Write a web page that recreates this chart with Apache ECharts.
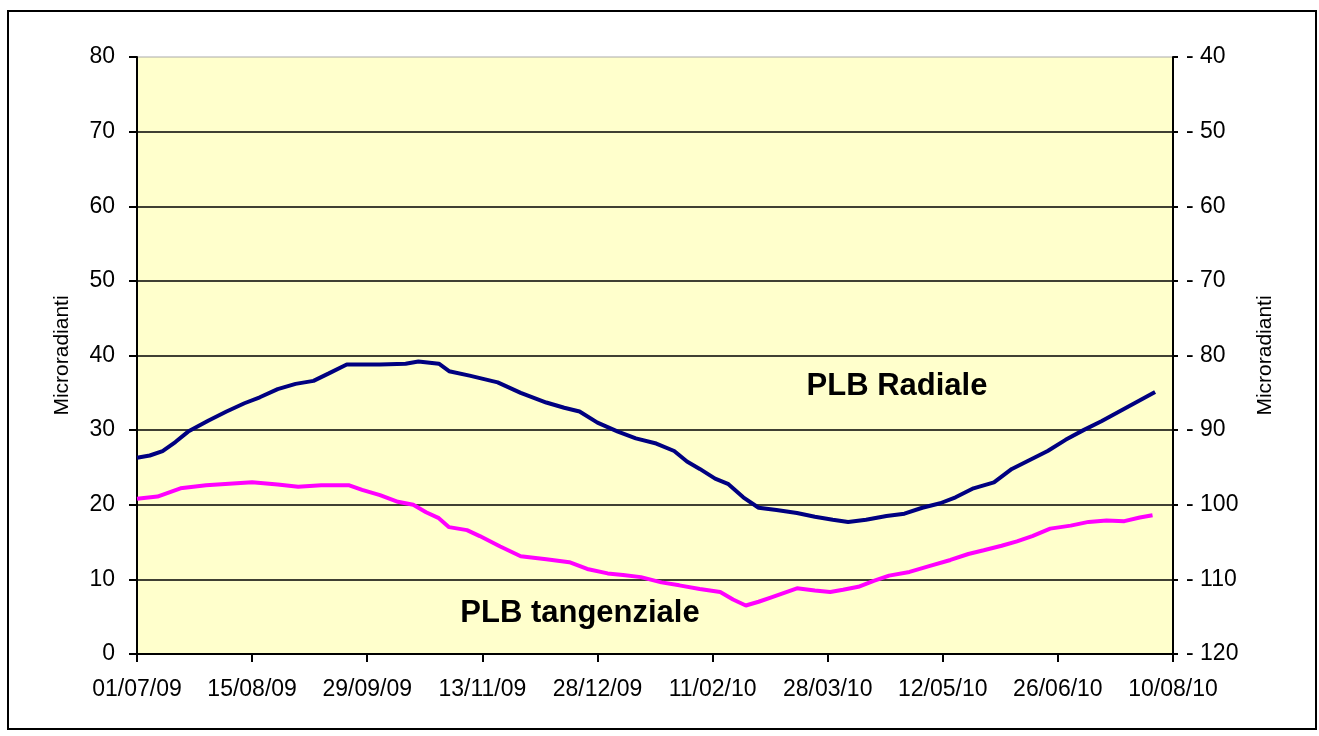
<!DOCTYPE html>
<html>
<head>
<meta charset="utf-8">
<title>PLB</title>
<script src="https://cdn.jsdelivr.net/npm/echarts@6/dist/echarts.min.js"></script>
<style>
  html, body { margin: 0; padding: 0; background: #fff; }
  #chart { width: 1319px; height: 736px; }
</style>
</head>
<body>
<div id="chart"></div>
<script>
// x values are days counted from 01/07/09
const startDate = Date.UTC(2009, 6, 1)
const dayMs = 86400000

const radialeDays = [0, 5, 10, 15, 20, 28, 35, 42, 48, 55, 62, 69, 75, 82, 95, 105, 110, 118, 122, 130,
  141, 150, 160, 167, 173, 180, 188, 195, 203, 210, 215, 220, 226, 231, 237, 243, 250, 258, 265, 272,
  278, 285, 293, 300, 307, 314, 320, 327, 335, 342, 349, 356, 363, 370, 377, 384, 391, 398]
const radialeValues = [26.3, 26.6, 27.2, 28.4, 29.8, 31.3, 32.5, 33.6, 34.4, 35.5, 36.2, 36.6, 37.6, 38.8, 38.8, 38.9, 39.2, 38.9, 37.9, 37.3,
  36.4, 35.0, 33.7, 33.0, 32.5, 31.0, 29.8, 28.9, 28.2, 27.2, 25.8, 24.8, 23.5, 22.8, 21.0, 19.6, 19.3, 18.9, 18.4, 18.0,
  17.7, 18.0, 18.5, 18.8, 19.6, 20.2, 21.0, 22.2, 23.0, 24.8, 26.0, 27.2, 28.7, 30.0, 31.2, 32.5, 33.8, 35.1]

const tangDays = [0, 8, 17, 27, 36, 45, 55, 63, 72, 83, 88, 95, 102, 108, 113, 118, 122, 129, 134, 142,
  150, 160, 169, 176, 184, 190, 197, 205, 212, 220, 228, 233, 238, 243, 248, 253, 258, 265, 271, 276,
  282, 288, 294, 302, 310, 318, 325, 331, 338, 344, 350, 357, 365, 372, 379, 386, 392, 397]
const tangValues = [20.8, 21.1, 22.2, 22.6, 22.8, 23.0, 22.7, 22.4, 22.6, 22.6, 22.0, 21.3, 20.4, 20.0, 19.0, 18.2, 17.0, 16.6, 15.8, 14.4,
  13.1, 12.7, 12.3, 11.4, 10.8, 10.6, 10.3, 9.6, 9.2, 8.7, 8.3, 7.3, 6.5, 7.0, 7.6, 8.2, 8.8, 8.5, 8.3, 8.6,
  9.0, 9.8, 10.5, 11.0, 11.8, 12.6, 13.4, 13.9, 14.5, 15.1, 15.8, 16.8, 17.2, 17.7, 17.9, 17.8, 18.3, 18.6]

const font = 'Arial, "Liberation Sans", sans-serif'

function fmtDate(d) {
  const dt = new Date(startDate + d * dayMs)
  const dd = String(dt.getUTCDate()).padStart(2, '0')
  const mm = String(dt.getUTCMonth() + 1).padStart(2, '0')
  const yy = String(dt.getUTCFullYear()).slice(2)
  return dd + '/' + mm + '/' + yy
}

function zip(xs, ys) {
  return xs.map((x, i) => [x, ys[i]])
}

const chart = echarts.init(document.getElementById('chart'))

chart.setOption({
  animation: false,
  backgroundColor: '#fff',
  grid: {
    left: 137,
    right: 146,
    top: 57,
    bottom: 82,
    show: true,
    backgroundColor: '#FFFFCC',
    borderColor: '#aaa',
    borderWidth: 1
  },
  xAxis: {
    type: 'value',
    min: 0,
    max: 405,
    interval: 45,
    axisLine: { lineStyle: { color: '#000', width: 2 } },
    axisTick: { show: true, length: 8, lineStyle: { color: '#000', width: 2 } },
    axisLabel: {
      margin: 24,
      color: '#000',
      fontSize: 23,
      fontFamily: font,
      formatter: fmtDate
    },
    splitLine: { show: false }
  },
  yAxis: [{
    type: 'value',
    min: 0,
    max: 80,
    interval: 10,
    name: 'Microradianti',
    nameLocation: 'middle',
    nameRotate: 90,
    nameGap: 64,
    nameTextStyle: { color: '#000', fontSize: 21, fontFamily: font },
    axisLine: { show: true, lineStyle: { color: '#000', width: 2 } },
    axisTick: { show: true, length: 8, lineStyle: { color: '#000', width: 2 } },
    axisLabel: { margin: 22, color: '#000', fontSize: 23, fontFamily: font },
    splitLine: { show: true, showMaxLine: false, lineStyle: { color: '#000', width: 1.5 } }
  }, {
    type: 'value',
    position: 'right',
    min: -120,
    max: -40,
    interval: 10,
    name: 'Microradianti',
    nameLocation: 'middle',
    nameRotate: 90,
    nameGap: 82,
    nameTextStyle: { color: '#000', fontSize: 21, fontFamily: font },
    axisLine: { show: true, lineStyle: { color: '#000', width: 2 } },
    axisTick: { show: true, length: 5, lineStyle: { color: '#000', width: 2 } },
    axisLabel: {
      margin: 13,
      color: '#000',
      fontSize: 23,
      fontFamily: font,
      formatter: v => (v < 0 ? '- ' + Math.abs(v) : String(v))
    },
    splitLine: { show: false }
  }],
  series: [{
    name: 'PLB Radiale',
    type: 'line',
    yAxisIndex: 0,
    data: zip(radialeDays, radialeValues),
    showSymbol: false,
    lineStyle: { color: '#000080', width: 4 },
    itemStyle: { color: '#000080' }
  }, {
    name: 'PLB tangenziale',
    type: 'line',
    yAxisIndex: 0,
    data: zip(tangDays, tangValues),
    showSymbol: false,
    lineStyle: { color: '#FF00FF', width: 4 },
    itemStyle: { color: '#FF00FF' }
  }],
  graphic: [{
    type: 'rect',
    shape: { x: 8, y: 11, width: 1308, height: 718 },
    style: { fill: null, stroke: '#000', lineWidth: 2 },
    silent: true
  }, {
    type: 'text',
    x: 897,
    y: 386,
    style: {
      text: 'PLB Radiale',
      fill: '#000',
      font: 'bold 31px ' + font,
      align: 'center',
      verticalAlign: 'middle'
    }
  }, {
    type: 'text',
    x: 580,
    y: 613,
    style: {
      text: 'PLB tangenziale',
      fill: '#000',
      font: 'bold 31px ' + font,
      align: 'center',
      verticalAlign: 'middle'
    }
  }]
})
</script>
</body>
</html>
